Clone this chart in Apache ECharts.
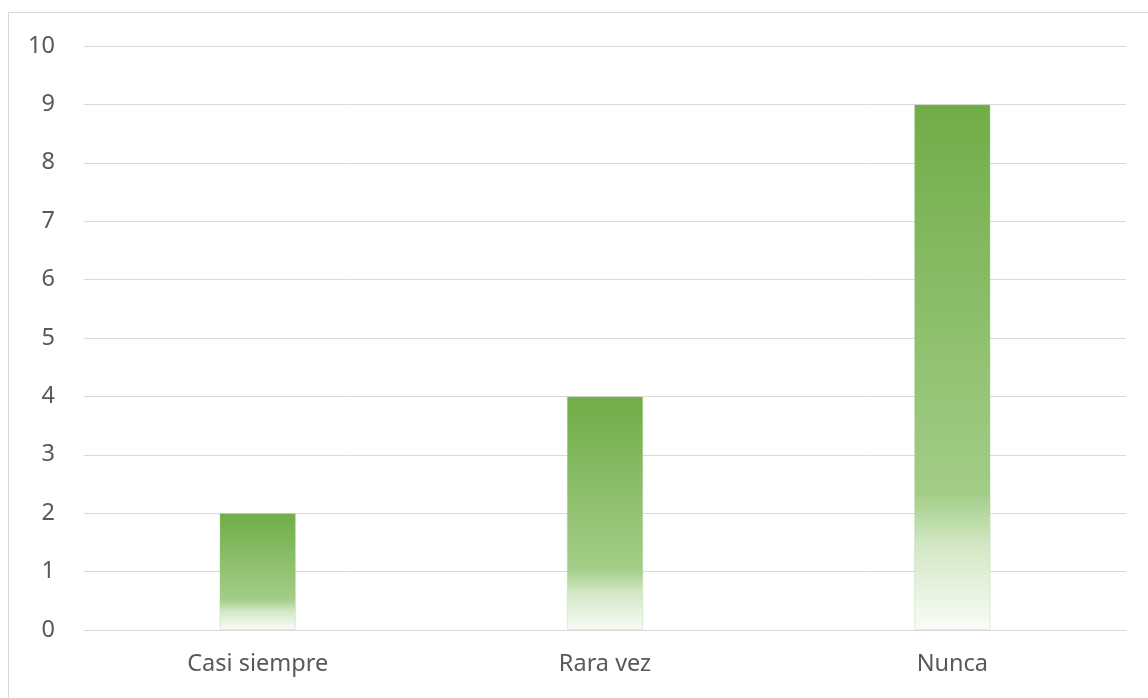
<!DOCTYPE html>
<html>
<head>
<meta charset="utf-8">
<script src="https://cdn.jsdelivr.net/npm/echarts@6/dist/echarts.min.js"></script>
<style>
  html, body { margin: 0; padding: 0; background: #fff; }
  #main { width: 1148px; height: 698px; }
</style>
</head>
<body>
<div id="main"></div>
<script>
// datos del gráfico
var categorias = ['Casi siempre', 'Rara vez', 'Nunca'];
var valores = [2, 4, 9];
var ticksY = [0, 1, 2, 3, 4, 5, 6, 7, 8, 9, 10];

var myChart = echarts.init(document.getElementById('main'));

// degradado verde como en Excel
var verde = new echarts.graphic.LinearGradient(0, 0, 0, 1, [
    { offset: 0, color: '#70ad47' },
    { offset: 0.74, color: '#a3cd88' },
    { offset: 0.84, color: '#d3e8c6' },
    { offset: 1, color: '#f9fcf7' }
]);

var option = {
    animation: false,
    textStyle: { fontFamily: 'Noto Sans' },
    graphic: [
        { type: 'line', shape: { x1: 8, y1: 12.5, x2: 1148, y2: 12.5 }, style: { stroke: '#d9d9d9', lineWidth: 1 } },
        { type: 'line', shape: { x1: 8.5, y1: 12, x2: 8.5, y2: 698 }, style: { stroke: '#d9d9d9', lineWidth: 1 } }
    ],
    grid: { left: 84, right: 22, top: 46, bottom: 68 },
    xAxis: {
        type: 'category',
        data: categorias,
        axisLine: { lineStyle: { color: '#d9d9d9', width: 1 } },
        axisTick: { show: false },
        axisLabel: { color: '#595959', fontSize: 23.5, margin: 22 }
    },
    yAxis: {
        type: 'value',
        min: ticksY[0],
        max: ticksY[ticksY.length - 1],
        interval: 1,
        axisLine: { show: false },
        axisTick: { show: false },
        axisLabel: { color: '#595959', fontSize: 23.5, margin: 29 },
        splitLine: { lineStyle: { color: '#d9d9d9', width: 1 } }
    },
    series: [{
        type: 'bar',
        data: valores,
        barWidth: '22%',
        itemStyle: { color: verde, borderColor: 'rgba(169,209,142,0.35)', borderWidth: 1 }
    }]
};

myChart.setOption(option);
</script>
</body>
</html>
